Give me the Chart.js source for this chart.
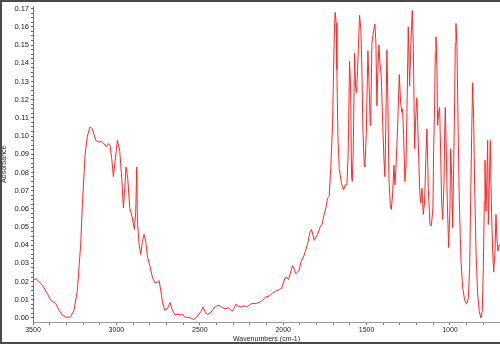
<!DOCTYPE html>
<html>
<head>
<meta charset="utf-8">
<script src="https://cdn.jsdelivr.net/npm/chart.js@4/dist/chart.umd.min.js"></script>
<style>
  body { margin: 0; background: #fff; }
  #wrap { width: 500px; height: 345px; position: relative; }
</style>
</head>
<body>
<div id="wrap"><canvas id="irSpectrum"></canvas></div>
<script>
// IR spectrum

const wavenumbers = [
    3500, 3480, 3444, 3414, 3394, 3364, 3344, 3324, 3294, 3274,
    3254, 3234, 3214, 3204, 3188, 3174, 3158, 3144, 3124, 3104,
    3088, 3074, 3060, 3048, 3038, 3028, 3018, 3008, 2994, 2980,
    2968, 2958, 2950, 2942, 2932, 2920, 2904, 2892, 2884, 2878,
    2874, 2864, 2854, 2844, 2834, 2824, 2814, 2800, 2784, 2768,
    2754, 2744, 2734, 2724, 2710, 2694, 2678, 2664, 2648, 2634,
    2620, 2604, 2590, 2574, 2554, 2538, 2524, 2510, 2494, 2480,
    2468, 2454, 2438, 2424, 2408, 2392, 2376, 2360, 2344, 2330,
    2318, 2304, 2292, 2284, 2270, 2254, 2234, 2220, 2204, 2188,
    2168, 2144, 2124, 2104, 2084, 2064, 2044, 2024, 2008, 1998,
    1988, 1978, 1968, 1958, 1944, 1934, 1924, 1914, 1904, 1894,
    1874, 1854, 1840, 1830, 1814, 1794, 1780, 1768, 1754, 1744,
    1734, 1724, 1714, 1704, 1698, 1692, 1688, 1682, 1678, 1672,
    1664, 1650, 1638, 1628, 1618, 1610, 1602, 1596, 1590, 1586,
    1580, 1572, 1566, 1560, 1554, 1542, 1534, 1528, 1522, 1514,
    1510, 1502, 1492, 1484, 1478, 1474, 1468, 1458, 1450, 1444,
    1438, 1432, 1426, 1420, 1412, 1404, 1396, 1390, 1384, 1378,
    1372, 1366, 1358, 1352, 1344, 1336, 1330, 1324, 1314, 1304,
    1296, 1288, 1284, 1278, 1270, 1264, 1258, 1250, 1242, 1234,
    1226, 1220, 1212, 1204, 1198, 1190, 1182, 1176, 1168, 1160,
    1152, 1144, 1138, 1130, 1120, 1112, 1102, 1098, 1092, 1088,
    1084, 1078, 1074, 1068, 1062, 1056, 1050, 1044, 1036, 1032,
    1028, 1022, 1016, 1008, 1000, 996, 990, 984, 978, 972,
    968, 964, 958, 952, 944, 934, 924, 912, 900, 890,
    882, 876, 870, 864, 858, 852, 844, 834, 824, 814,
    806, 800, 794, 790, 784, 778, 774, 770, 764, 758,
    752, 744, 738, 730, 724, 718, 712, 704,
];

const absorbance = [
    0.021, 0.0215, 0.018, 0.0134, 0.0098, 0.008, 0.0043, 0.0016, 0.0002, 0.0007,
    0.0043, 0.015, 0.0406, 0.062, 0.0895, 0.100, 0.105, 0.104, 0.0976, 0.0967,
    0.097, 0.0958, 0.094, 0.0958, 0.095, 0.0876, 0.0777, 0.0858, 0.0976, 0.092,
    0.0768, 0.0605, 0.0713, 0.083, 0.0768, 0.0605, 0.055, 0.0487, 0.0587, 0.083,
    0.053, 0.0406, 0.035, 0.042, 0.046, 0.042, 0.034, 0.0288, 0.0224, 0.0192,
    0.0197, 0.0206, 0.0152, 0.0089, 0.0043, 0.0053, 0.0085, 0.0043, 0.0016, 0.0022,
    0.0016, 0.002, 0.0004, 0.0004, 0.0, -0.0008, 0.0, 0.0016, 0.0034, 0.0061,
    0.0034, 0.002, 0.0026, 0.0043, 0.0061, 0.007, 0.0065, 0.0056, 0.0049, 0.0058,
    0.0047, 0.0038, 0.0058, 0.0076, 0.0065, 0.0061, 0.0067, 0.0061, 0.007, 0.008,
    0.008, 0.0085, 0.0098, 0.0116, 0.0121, 0.0137, 0.0148, 0.0156, 0.0167, 0.0197,
    0.0221, 0.0224, 0.021, 0.0243, 0.0288, 0.027, 0.0243, 0.0251, 0.0264, 0.0306,
    0.0346, 0.0406, 0.0469, 0.0487, 0.0427, 0.046, 0.0496, 0.0514, 0.0569, 0.0605,
    0.0659, 0.0668, 0.084, 0.1058, 0.1365, 0.1619, 0.168, 0.162, 0.1365, 0.1003,
    0.0822, 0.074, 0.0704, 0.0732, 0.0732, 0.0913, 0.141, 0.1275, 0.0786, 0.075,
    0.0913, 0.1456, 0.1275, 0.1238, 0.1365, 0.1664, 0.1582, 0.1365, 0.1039, 0.084,
    0.0831, 0.1003, 0.147, 0.1256, 0.1058, 0.1148, 0.151, 0.158, 0.1615, 0.151,
    0.1166, 0.1365, 0.150, 0.1401, 0.1329, 0.1093, 0.0876, 0.0777, 0.1093, 0.1474,
    0.1184, 0.0767, 0.0623, 0.0596, 0.0677, 0.084, 0.0732, 0.0822, 0.1039, 0.1338,
    0.1184, 0.113, 0.1148, 0.1003, 0.075, 0.0822, 0.113, 0.160, 0.1275, 0.151,
    0.169, 0.151, 0.093, 0.113, 0.1211, 0.0967, 0.0713, 0.0632, 0.0713, 0.0569,
    0.0641, 0.0895, 0.1039, 0.0713, 0.0514, 0.0505, 0.0605, 0.0913, 0.1184, 0.1456,
    0.1546, 0.1365, 0.1058, 0.113, 0.1157, 0.0913, 0.0641, 0.0542, 0.0732, 0.1003,
    0.1157, 0.0913, 0.0641, 0.0387, 0.0605, 0.093, 0.0786, 0.0496, 0.0822, 0.1184,
    0.151, 0.1619, 0.1492, 0.1093, 0.0641, 0.0315, 0.017, 0.0098, 0.0076, 0.0107,
    0.0279, 0.0641, 0.1003, 0.1293, 0.1093, 0.0732, 0.0369, 0.0134, 0.0034, 0.0,
    0.0043, 0.0279, 0.0641, 0.0867, 0.0587, 0.0786, 0.0976, 0.0514, 0.0732, 0.0976,
    0.0641, 0.0369, 0.0252, 0.0369, 0.0569, 0.0424, 0.0369, 0.0405,
];

// tick marks every 100 cm-1, labels every 500
const xTicks = [3500, 3400, 3300, 3200, 3100, 3000, 2900, 2800, 2700, 2600,
    2500, 2400, 2300, 2200, 2100, 2000, 1900, 1800, 1700, 1600,
    1500, 1400, 1300, 1200, 1100, 1000, 900, 800];
const xLabels = [3500, 3000, 2500, 2000, 1500, 1000];

// minor y ticks every 0.0025, labels every 0.01
const yTicks = [];
for (let i = 0; i <= 68; i++) yTicks.push(i * 0.0025);

const points = wavenumbers.map((w, i) => ({ x: w, y: absorbance[i] }));

const framePlugin = {
    id: 'frame',
    afterDraw(chart) {
        const ctx = chart.ctx;
        ctx.save();
        ctx.fillStyle = '#4a4a4a';
        ctx.fillRect(0, 0, 500, 2);
        ctx.fillRect(0, 0, 2, 344);
        ctx.fillRect(0, 342, 500, 2);
        ctx.restore();
    }
};

const spectrumConfig = {
    type: 'line',
    data: {
        datasets: [{
            data: points,
            borderColor: 'rgb(255, 40, 40)',
            borderWidth: 1,
            pointRadius: 0,
            tension: 0,
            fill: false,
        }]
    },
    options: {
        responsive: true,
        maintainAspectRatio: false,
        animation: false,
        devicePixelRatio: 1,
        layout: { padding: { top: 3, right: 0, bottom: 2, left: 0 } },
        plugins: { legend: { display: false }, tooltip: { enabled: false } },
        scales: {
            x: {
                type: 'linear',
                reverse: true,
                min: 700,
                max: 3500,
                afterBuildTicks(scale) {
                    scale.ticks = xTicks.map(v => ({ value: v }));
                },
                afterFit(scale) { scale.height = 21; },
                border: { display: true, color: '#9a9a9a' },
                grid: { drawOnChartArea: false, tickLength: 3, color: '#777' },
                ticks: {
                    autoSkip: false,
                    maxRotation: 0,
                    padding: 1,
                    color: '#222',
                    font: { family: 'Liberation Sans, Arial', size: 7 },
                    callback: v => xLabels.includes(v) ? String(v) : '',
                },
                title: {
                    display: true,
                    text: 'Wavenumbers (cm-1)',
                    color: '#222',
                    padding: { top: 0, bottom: 0 },
                    font: { family: 'Liberation Sans, Arial', size: 7 },
                },
            },
            y: {
                type: 'linear',
                min: -0.0022,
                max: 0.1712,
                afterBuildTicks(scale) {
                    scale.ticks = yTicks.map(v => ({ value: v }));
                },
                afterFit(scale) { scale.width = 33; },
                border: { display: true, color: '#777', dash: [1, 1] },
                grid: { drawOnChartArea: false, tickLength: 2, color: '#666' },
                ticks: {
                    autoSkip: false,
                    padding: 2,
                    color: '#222',
                    font: { family: 'Liberation Sans, Arial', size: 7.5 },
                    callback: (v, i) => i % 4 === 0 ? (i / 400).toFixed(2) : '',
                },
                title: {
                    display: true,
                    text: 'Absorbance',
                    color: '#222',
                    padding: { top: 0, bottom: 0 },
                    font: { family: 'Liberation Sans, Arial', size: 7 },
                },
            },
        },
    },
    plugins: [framePlugin],
};

const spectrumChart = new Chart(
    document.getElementById('irSpectrum'),
    spectrumConfig
);
</script>
</body>
</html>
